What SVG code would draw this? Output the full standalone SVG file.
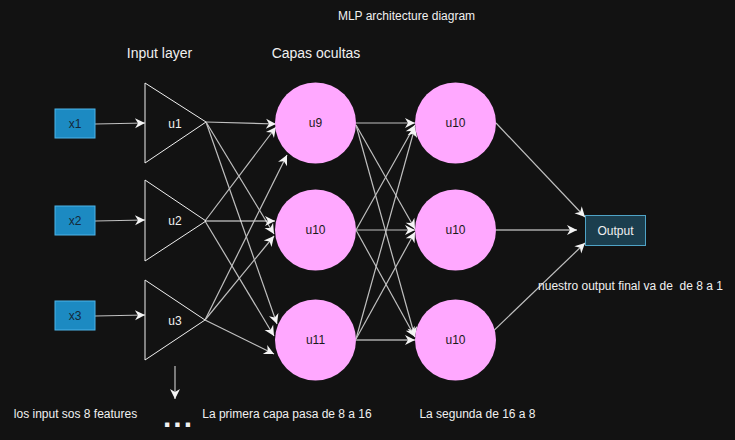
<svg xmlns="http://www.w3.org/2000/svg" width="735" height="440" viewBox="0 0 735 440">
<style>
text{font-family:"Liberation Sans",Arial,sans-serif;}
.lbl{fill:#f0f0f0;font-size:12px;}
.hdr{fill:#f0f0f0;font-size:14px;}
.inp{fill:#1c8ac2;stroke:#4db3e8;stroke-width:1;}
.inpt{fill:#142838;font-size:12px;text-anchor:middle;}
.tri{fill:none;stroke:#f0f0f0;stroke-width:1;}
.trit{fill:#f0f0f0;font-size:12px;text-anchor:middle;}
.cir{fill:#ffa8ff;}
.cirt{fill:#1a1a1a;font-size:12px;text-anchor:middle;}
.out{fill:#1b3e4e;stroke:#4fa3c6;stroke-width:1;}
.outt{fill:#f0f0f0;font-size:12px;text-anchor:middle;}
.c{stroke:#c0c0c0;stroke-width:1.2;fill:none;marker-end:url(#ah);}
.w{stroke:#f4f4f4;}
</style>
<defs>
<marker id="ah" markerUnits="userSpaceOnUse" markerWidth="12" markerHeight="12" viewBox="0 0 12 12" refX="11" refY="6" orient="auto">
<path d="M1,1 L11,6 L1,11 L4,6 Z" fill="#f4f4f4"/>
</marker>
</defs>
<rect width="735" height="440" fill="#121212"/>

<g id="connectors">
<line class="c" x1="95" y1="124" x2="145" y2="123"/>
<line class="c" x1="95" y1="221" x2="145" y2="220"/>
<line class="c" x1="95" y1="316" x2="145" y2="315"/>

<line class="c" x1="206" y1="122" x2="276" y2="124"/>
<line class="c" x1="206" y1="122" x2="274" y2="234"/>
<line class="c" x1="206" y1="122" x2="277" y2="324"/>
<line class="c" x1="205" y1="221" x2="276" y2="127"/>
<line class="c w" x1="205" y1="221" x2="275" y2="221"/>
<line class="c" x1="205" y1="221" x2="274" y2="336"/>
<line class="c" x1="205" y1="320" x2="287" y2="155"/>
<line class="c" x1="205" y1="320" x2="274" y2="236"/>
<line class="c" x1="205" y1="320" x2="274" y2="354"/>

<line class="c" x1="356" y1="123" x2="415" y2="123"/>
<line class="c" x1="356" y1="125" x2="415" y2="229"/>
<line class="c" x1="356" y1="125" x2="415" y2="337"/>
<line class="c" x1="356" y1="230" x2="415" y2="125"/>
<line class="c" x1="356" y1="230" x2="415" y2="230"/>
<line class="c" x1="356" y1="230" x2="415" y2="337"/>
<line class="c" x1="356" y1="339" x2="415" y2="127"/>
<line class="c" x1="356" y1="339" x2="415" y2="232"/>
<line class="c w" x1="356" y1="340" x2="415" y2="340"/>

<line class="c" x1="496" y1="123" x2="585" y2="217"/>
<line class="c w" x1="496" y1="230" x2="577" y2="230"/>
<line class="c" x1="485" y1="339" x2="585" y2="243"/>

<line class="c" x1="175" y1="366" x2="175" y2="399"/>
</g>

<g id="x1"><rect class="inp" x="55" y="109" width="40" height="29"/><text class="inpt" x="75" y="128">x1</text></g>
<g id="x2"><rect class="inp" x="55" y="206" width="40" height="29"/><text class="inpt" x="75" y="225">x2</text></g>
<g id="x3"><rect class="inp" x="55" y="301" width="40" height="29"/><text class="inpt" x="75" y="320">x3</text></g>

<g id="u1"><polygon class="tri" points="145,83 145,163 206,122"/><text class="trit" x="175" y="128">u1</text></g>
<g id="u2"><polygon class="tri" points="145,180 145,261 206,221"/><text class="trit" x="175" y="225">u2</text></g>
<g id="u3"><polygon class="tri" points="145,280 145,360 205,320"/><text class="trit" x="175" y="325">u3</text></g>

<g id="u9"><circle class="cir" cx="315.5" cy="123" r="40.5"/><text class="cirt" x="315.5" y="127">u9</text></g>
<g id="u10a"><circle class="cir" cx="315.5" cy="230" r="40.5"/><text class="cirt" x="315.5" y="234">u10</text></g>
<g id="u11"><circle class="cir" cx="315.5" cy="340" r="40.5"/><text class="cirt" x="315.5" y="344">u11</text></g>

<g id="u10b"><circle class="cir" cx="455.5" cy="123" r="40.5"/><text class="cirt" x="455.5" y="127">u10</text></g>
<g id="u10c"><circle class="cir" cx="455.5" cy="230" r="40.5"/><text class="cirt" x="455.5" y="234">u10</text></g>
<g id="u10d"><circle class="cir" cx="455.5" cy="340" r="40.5"/><text class="cirt" x="455.5" y="344">u10</text></g>

<g id="output"><rect class="out" x="585.5" y="215.5" width="60" height="30"/><text class="outt" x="615.5" y="234.5">Output</text></g>

<g id="labels">
<text class="lbl" x="406.5" y="20" text-anchor="middle">MLP architecture diagram</text>
<text class="hdr" x="159.5" y="58" text-anchor="middle">Input layer</text>
<text class="hdr" x="316" y="58" text-anchor="middle">Capas ocultas</text>
<text class="lbl" x="75.5" y="418" text-anchor="middle">los input sos 8 features</text>
<text class="lbl" x="287" y="418" text-anchor="middle">La primera capa pasa de 8 a 16</text>
<text class="lbl" x="477.5" y="418" text-anchor="middle">La segunda de 16 a 8</text>
<text class="lbl" x="630.5" y="290" text-anchor="middle" xml:space="preserve" style="white-space:pre">nuestro output final va de  de 8 a 1</text>
<text x="163" y="427" fill="#f0f0f0" font-size="30" font-weight="bold" letter-spacing="2" style="font-family:'Liberation Sans',Arial,sans-serif">...</text>
</g>
</svg>
